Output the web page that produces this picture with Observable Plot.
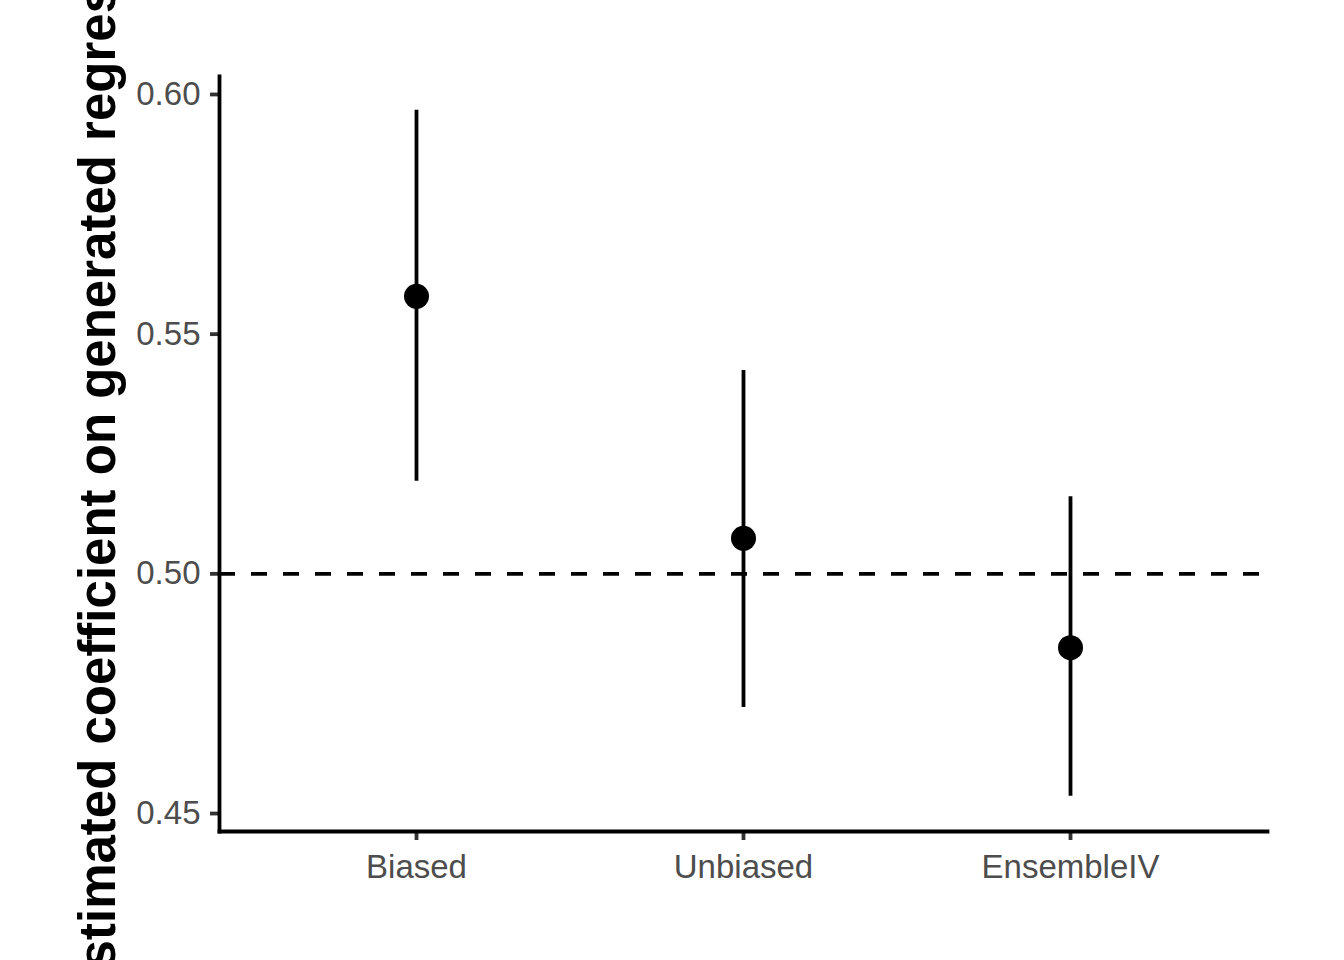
<!DOCTYPE html>
<html>
<head>
<meta charset="utf-8">
<script src="https://cdn.jsdelivr.net/npm/d3@7"></script>
<script src="https://cdn.jsdelivr.net/npm/@observablehq/plot@0.6"></script>
<style>
  html, body { margin: 0; padding: 0; background: #fff; overflow: hidden; }
  #chart svg { display: block; }
</style>
</head>
<body>
<div id="chart"></div>
<script>
const categories = ["Biased", "Unbiased", "EnsembleIV"];
const estimates  = [0.5579, 0.5074, 0.4846];
const lowerCI    = [0.5193, 0.4721, 0.4536];
const upperCI    = [0.5967, 0.5424, 0.5161];
const yTicks     = [0.45, 0.50, 0.55, 0.60];
const referenceValue = 0.5;
const yLabel = "Estimated coefficient on generated regressor";

const data = categories.map((c, i) => ({cat: c, est: estimates[i], lo: lowerCI[i], hi: upperCI[i]}));

const font = "'Liberation Sans', Arial, sans-serif";

const chart = Plot.plot({
  width: 1344,
  height: 960,
  marginLeft: 219,
  marginRight: 77,
  marginTop: 76,
  marginBottom: 129,
  style: {fontFamily: font, background: "#fff", overflow: "hidden"},
  x: {type: "point", domain: categories, padding: 0.6},
  y: {domain: [0.44625, 0.60375]},
  marks: [
    Plot.ruleY([referenceValue], {stroke: "black", strokeWidth: 3.8, strokeDasharray: "16,16"}),
    Plot.ruleX(data, {x: "cat", y1: "lo", y2: "hi", stroke: "black", strokeWidth: 3.8}),
    Plot.dot(data, {x: "cat", y: "est", r: 12.5, fill: "black", stroke: null}),
    Plot.axisY({ticks: yTicks, tickFormat: d3.format(".2f"), tickSize: 9, tickPadding: 10,
      stroke: "#333333", strokeWidth: 3.8, fill: "#4D4D4D", fontSize: 33, label: null}),
    Plot.axisX({tickSize: 9, tickPadding: 14, stroke: "#333333", strokeWidth: 3.8,
      fill: "#4D4D4D", fontSize: 33, label: null}),
    Plot.frame({anchor: "left", stroke: "black", strokeWidth: 3.8, strokeLinecap: "square"}),
    Plot.frame({anchor: "bottom", stroke: "black", strokeWidth: 3.8, strokeLinecap: "square"}),
    Plot.text([yLabel], {frameAnchor: "left", dx: -105, rotate: -90, textAnchor: "middle",
      lineAnchor: "bottom", fontSize: 51, fontWeight: "bold", fill: "black"})
  ]
});
document.getElementById("chart").appendChild(chart);
</script>
</body>
</html>
